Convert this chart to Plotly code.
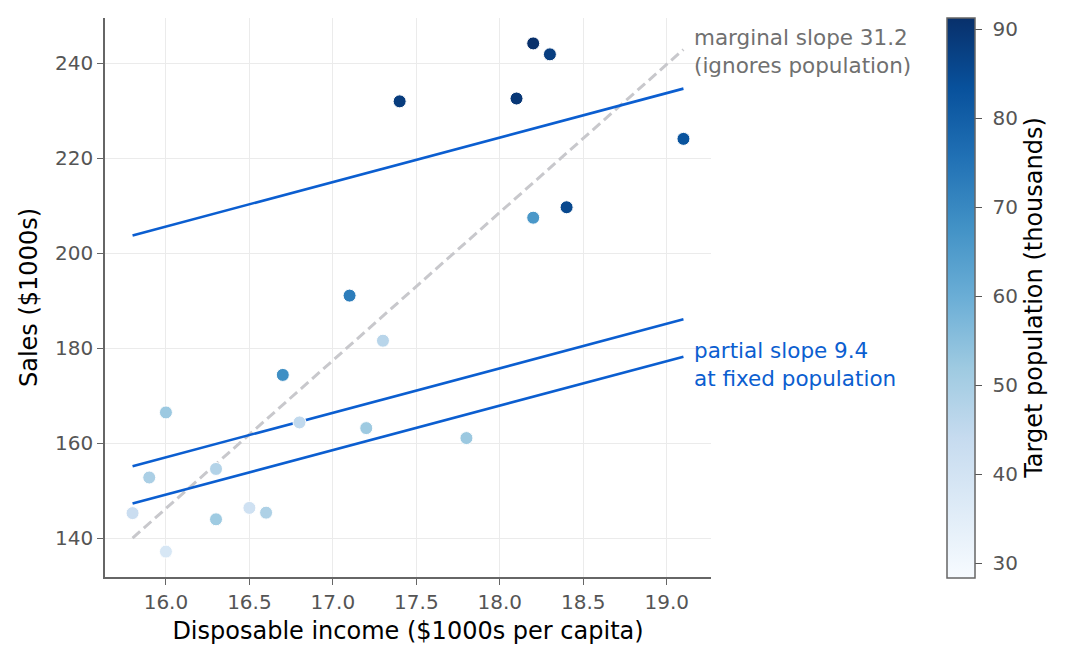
import numpy as np
import plotly.graph_objects as go

# Dwaine Studios data
population = [68.5, 45.2, 91.3, 47.8, 46.9, 66.1, 49.5, 52.0, 48.9, 38.4, 87.9,
              72.8, 88.4, 42.9, 52.5, 85.7, 41.3, 51.7, 89.6, 82.7, 52.3]
income = [16.7, 16.8, 18.2, 16.3, 17.3, 18.2, 15.9, 17.2, 16.6, 16.0, 18.3,
          17.1, 17.4, 15.8, 17.8, 18.4, 16.5, 16.3, 18.1, 19.1, 16.0]
sales = [174.4, 164.4, 244.2, 154.6, 181.6, 207.5, 152.8, 163.2, 145.4, 137.2, 241.9,
         191.1, 232.0, 145.3, 161.1, 209.7, 146.4, 144.0, 232.6, 224.1, 166.5]
fixed_populations = [46.9, 52.3, 85.7]
color_range = [28.4, 91.3]
cbar_ticks = [30, 40, 50, 60, 70, 80, 90]
x_ticks = [16.0, 16.5, 17.0, 17.5, 18.0, 18.5, 19.0]
y_ticks = [140, 160, 180, 200, 220, 240]

P = np.array(population)
X = np.array(income)
Y = np.array(sales)

# multiple regression Y ~ P + X
A = np.column_stack([np.ones_like(X), P, X])
b0, bP, bX = np.linalg.lstsq(A, Y, rcond=None)[0]
# marginal regression Y ~ X
m1, m0 = np.polyfit(X, Y, 1)

xs = np.array([X.min(), X.max()])

BLUE = "#0b5ed0"
FONT = "DejaVu Sans"
TICK = 20
TITLE = 24
ANN = 21.5

fig = go.Figure()

fig.add_trace(go.Scatter(
    x=xs, y=m0 + m1 * xs, mode="lines",
    line=dict(color="#c8c8cc", width=3, dash="10px,5px"),
    showlegend=False, hoverinfo="skip"))

for p in fixed_populations:
    fig.add_trace(go.Scatter(
        x=xs, y=b0 + bP * p + bX * xs, mode="lines",
        line=dict(color=BLUE, width=2.6),
        showlegend=False, hoverinfo="skip"))

fig.add_trace(go.Scatter(
    x=X, y=Y, mode="markers",
    marker=dict(size=13, color=P, colorscale="Blues",
                cmin=color_range[0], cmax=color_range[1],
                line=dict(color="white", width=1),
                colorbar=dict(
                    x=1.389, xanchor="left", xpad=0, y=0.5, yanchor="middle", ypad=0,
                    lenmode="pixels", len=560, thickness=28,
                    outlinecolor="#666666", outlinewidth=1.5,
                    tickvals=cbar_ticks, ticktext=["\u00a0" + str(t) for t in cbar_ticks],
                    ticks="outside", ticklen=7,
                    tickcolor="#555555", tickwidth=1.2,
                    tickfont=dict(family=FONT, size=TICK, color="#555555"),
                    title=dict(text="Target population (thousands)", side="right",
                               font=dict(family=FONT, size=TITLE, color="black")))),
    showlegend=False))

marg_end = m0 + m1 * xs[1]
part_end = b0 + bP * min(fixed_populations) + bX * xs[1]

fig.add_annotation(x=xs[1], y=marg_end, xref="x", yref="y",
                   text=f"marginal slope {m1:.1f}<br>(ignores population)",
                   showarrow=False, xanchor="left", yanchor="middle", align="left",
                   xshift=9, yshift=-2,
                   font=dict(family=FONT, size=ANN, color="#707070"))
fig.add_annotation(x=xs[1], y=part_end, xref="x", yref="y",
                   text=f"partial slope {bX:.1f}<br>at fixed population",
                   showarrow=False, xanchor="left", yanchor="middle", align="left",
                   xshift=9, yshift=-8,
                   font=dict(family=FONT, size=ANN, color=BLUE))

axis_common = dict(
    showline=True, linecolor="#666666", linewidth=1.5,
    ticks="outside", ticklen=6, tickcolor="#666666", tickwidth=1.2,
    tickfont=dict(family=FONT, size=TICK, color="#555555"),
    showgrid=True, gridcolor="#ebebeb", gridwidth=1, zeroline=False,
    mirror=False)

fig.update_xaxes(range=[15.635, 19.265], tickvals=x_ticks,
                 ticktext=[f"{t:.1f}" for t in x_ticks],
                 title=dict(text="Disposable income ($1000s per capita)",
                            font=dict(family=FONT, size=TITLE, color="black"), standoff=9),
                 **axis_common)
fig.update_yaxes(range=[131.85, 249.55], tickvals=y_ticks,
                 title=dict(text="Sales ($1000s)",
                            font=dict(family=FONT, size=TITLE, color="black"), standoff=11),
                 **axis_common)

fig.update_layout(
    width=1066, height=663,
    margin=dict(l=105, r=355, t=18, b=86),
    plot_bgcolor="white", paper_bgcolor="white",
    font=dict(family=FONT),
)

fig.write_html("out.html")
